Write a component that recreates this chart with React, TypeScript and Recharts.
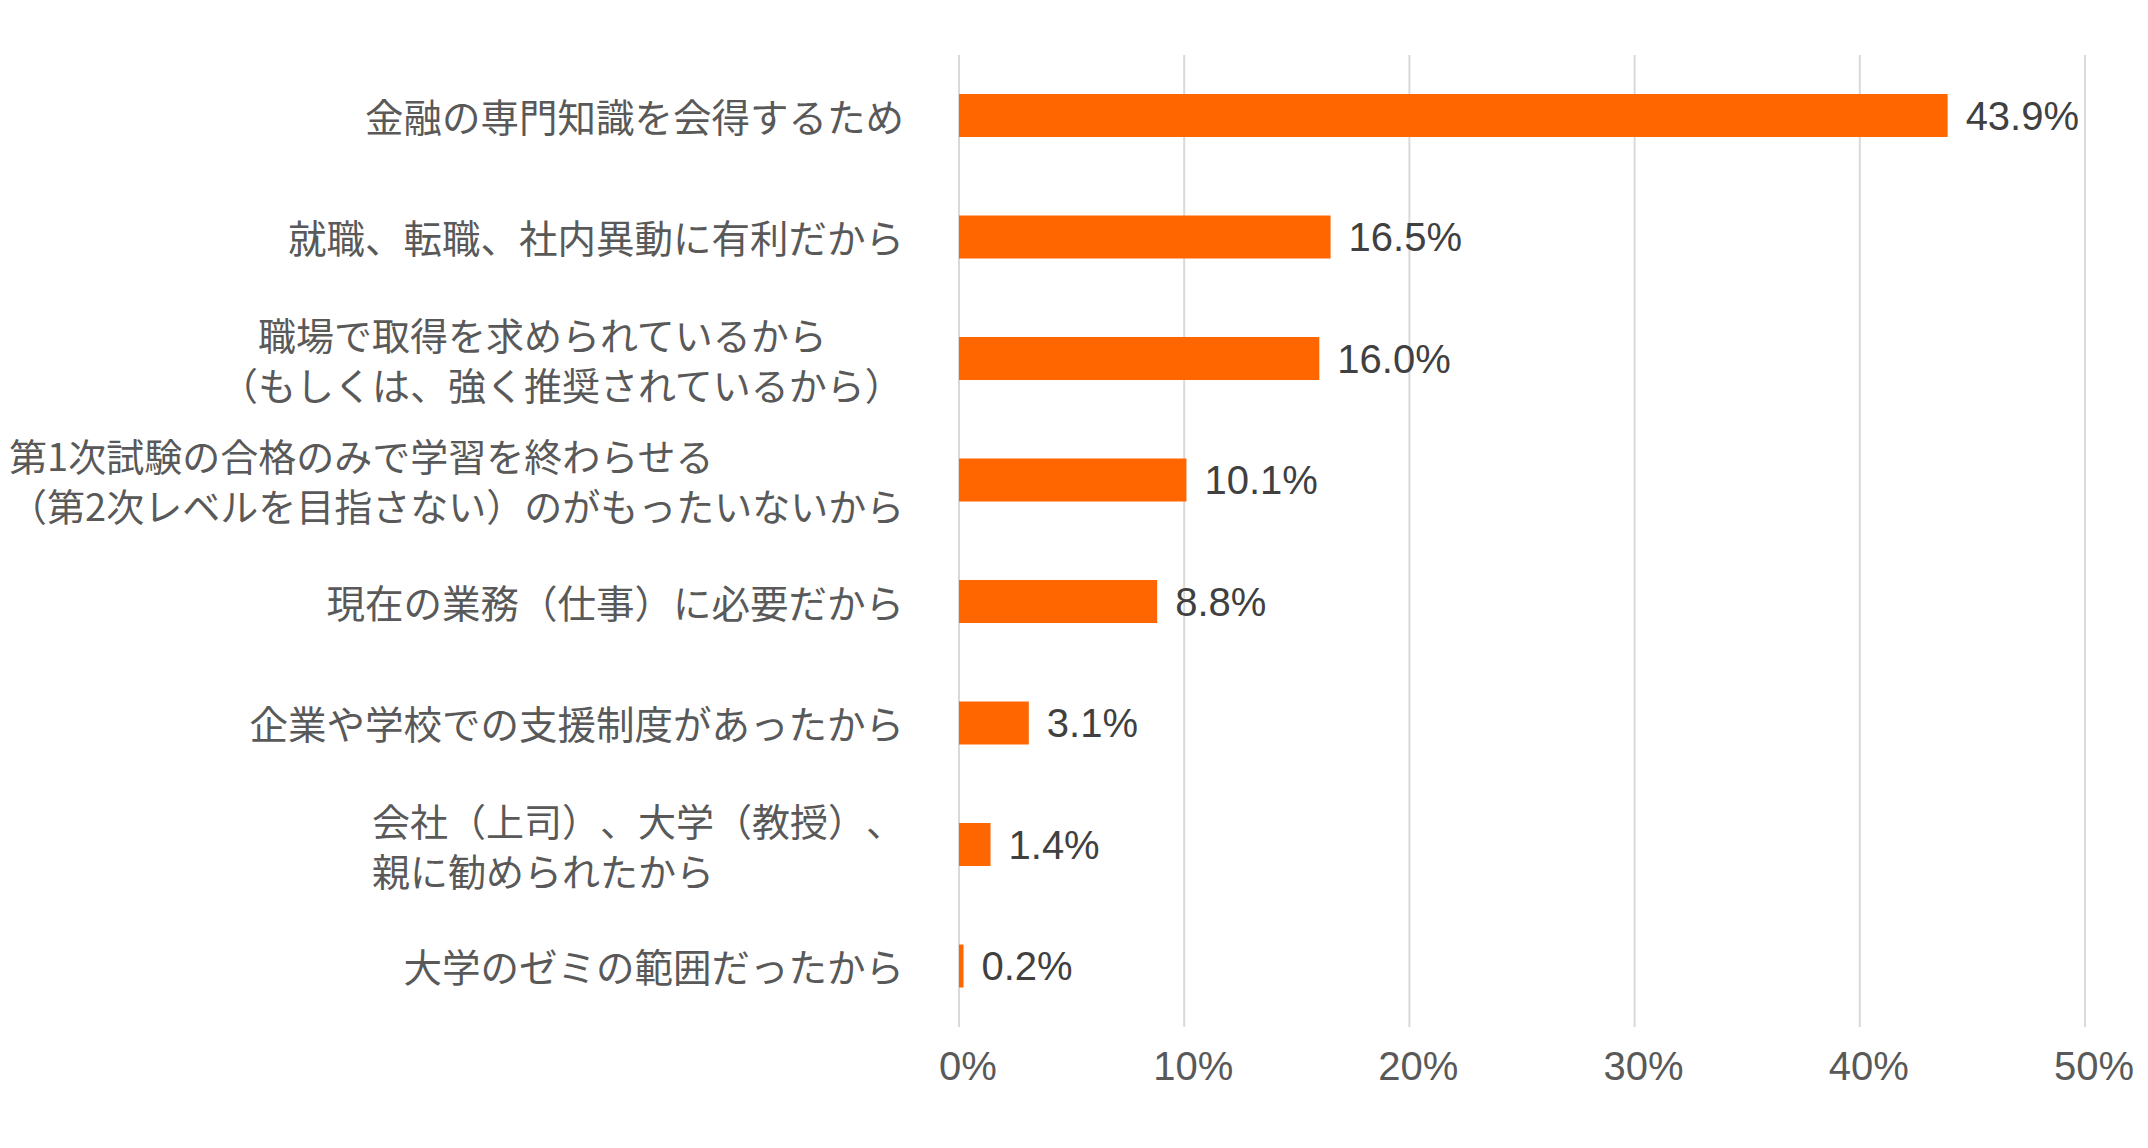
import { BarChart, Bar, XAxis, YAxis, CartesianGrid, LabelList } from 'recharts';

// 回答項目（上から順）。改行は「\n」、全角スペースは元ラベルの字下げ
const reasons = [
  '金融の専門知識を会得するため',
  '就職、転職、社内異動に有利だから',
  '　職場で取得を求められているから\n（もしくは、強く推奨されているから）',
  '第1次試験の合格のみで学習を終わらせる\n（第2次レベルを目指さない）のがもったいないから',
  '現在の業務（仕事）に必要だから',
  '企業や学校での支援制度があったから',
  '会社（上司）、大学（教授）、\n親に勧められたから',
  '大学のゼミの範囲だったから',
];
const shares = [43.9, 16.5, 16.0, 10.1, 8.8, 3.1, 1.4, 0.2];
const xTicks = [0, 10, 20, 30, 40, 50];

const data = reasons.map((name, i) => ({ name, value: shares[i] }));

const CAT_FONT = 38.5;
const MULTI_FONT = 38;
const NUM_FONT = 40;
const catStyle = { textSpacingTrim: 'space-all' } as React.CSSProperties;

// ざっくり文字幅を見積もる（半角は約0.55em）
function textWidth(s: string, size: number) {
  let w = 0;
  for (const ch of s) w += ch.charCodeAt(0) < 0x80 ? 0.55 : 1;
  return w * size;
}

function CategoryTick({ x, y, payload }: { x?: number; y?: number; payload?: { value: string } }) {
  const lines = String(payload?.value ?? '').split('\n');
  const lineGap = 50;
  if (lines.length === 1) {
    return (
      <text x={x} y={y} dy="0.42em" textAnchor="end" fill="#595959" fontSize={CAT_FONT} style={catStyle} fontFamily="'Noto Sans CJK JP', sans-serif">
        {lines[0]}
      </text>
    );
  }
  const blockW = Math.max(...lines.map((l) => textWidth(l, MULTI_FONT)));
  const left = (x ?? 0) - blockW;
  return (
    <g>
      {lines.map((ln, i) => (
        <text
          key={i}
          x={left}
          y={(y ?? 0) + (i - (lines.length - 1) / 2) * lineGap}
          dy="0.42em"
          textAnchor="start"
          fill="#595959"
          fontSize={MULTI_FONT}
          style={catStyle}
          fontFamily="'Noto Sans CJK JP', sans-serif"
        >
          {ln}
        </text>
      ))}
    </g>
  );
}

function PercentTick({ x, y, payload }: { x?: number; y?: number; payload?: { value: number } }) {
  return (
    <text x={(x ?? 0) + 9} y={y} dy="0.71em" textAnchor="middle" fill="#595959" fontSize={NUM_FONT} fontFamily="'Liberation Sans', Arial, sans-serif">
      {`${payload?.value}%`}
    </text>
  );
}

export default function App() {
  return (
    <div style={{ position: 'fixed', left: 0, top: 0, width: 2148, height: 1148, background: '#fff' }}>
      <BarChart
        width={2148}
        height={1148}
        data={data}
        layout="vertical"
        margin={{ top: 55, right: 63, bottom: 61, left: 0 }}
      >
        <CartesianGrid horizontal={false} vertical stroke="#D9D9D9" strokeWidth={2} />
        <XAxis
          type="number"
          domain={[0, 50]}
          ticks={xTicks}
          axisLine={false}
          tickLine={false}
          tickSize={6}
          tickMargin={19}
          height={60}
          interval={0}
          tick={<PercentTick />}
        />
        <YAxis
          type="category"
          dataKey="name"
          width={959}
          axisLine={false}
          tickLine={false}
          tickSize={0}
          tickMargin={55}
          interval={0}
          tick={<CategoryTick />}
        />
        <Bar dataKey="value" fill="#FF6600" barSize={43} isAnimationActive={false}>
          <LabelList
            dataKey="value"
            position="right"
            offset={18}
            formatter={(v: number) => `${Number(v).toFixed(1)}%`}
            fill="#404040"
            fontSize={NUM_FONT}
            fontFamily="'Liberation Sans', Arial, sans-serif"
          />
        </Bar>
      </BarChart>
    </div>
  );
}
